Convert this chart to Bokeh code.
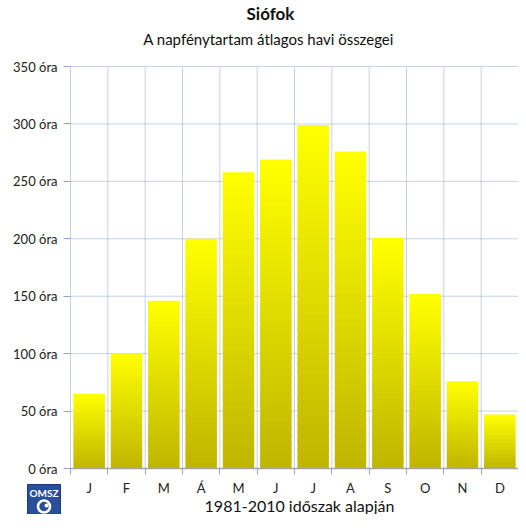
from bokeh.plotting import figure
from bokeh.models import Range1d, FixedTicker, Label, LinearAxis, ColumnDataSource
from bokeh.embed import file_html
from bokeh.resources import INLINE

months = ["J", "F", "M", "Á", "M", "J", "J", "A", "S", "O", "N", "D"]
sunshine = [65, 100, 146, 200, 258, 269, 299, 276, 201, 152, 76, 47]
y_ticks = [0, 50, 100, 150, 200, 250, 300, 350]
y_labels = [f"{t} óra" for t in y_ticks]

FONT = "Lato"
top_rgb = (255, 255, 0)
bot_rgb = (192, 182, 0)
grid_col = "#8FA5D2"
W, H = 518, 514
left_px, zero_px, top_px = 70, 468, 66
ppu_x = (W - left_px) / 12
ppu_y = (zero_px - top_px) / 350

p = figure(width=W, height=H, output_backend="svg", toolbar_location=None, title=None,
           x_axis_type=None, y_axis_type=None,
           x_range=Range1d(-left_px / ppu_x, 12),
           y_range=Range1d(-(H - zero_px) / ppu_y, 350 + top_px / ppu_y),
           min_border=0)
p.outline_line_color = None
p.background_fill_color = "white"
p.xgrid.visible = False
p.ygrid.visible = False


def px_x(px):
    return (px - left_px) / ppu_x


def px_y(py):
    return (zero_px - py) / ppu_y


# grid lines (from the tick lists)
n_cat = len(months)
hx0 = [0] * (len(y_ticks) - 1)
hx1 = [n_cat] * (len(y_ticks) - 1)
p.segment(x0=hx0, x1=hx1, y0=y_ticks[1:], y1=y_ticks[1:], line_color=grid_col,
          line_dash="1 1", line_width=1)
bounds = list(range(n_cat + 1))
p.segment(x0=bounds, x1=bounds, y0=[0] * len(bounds), y1=[y_ticks[-1]] * len(bounds),
          line_color=grid_col, line_dash="1 1", line_width=1)

# gradient bars made of thin slices
n = 40
xs, bots, tops, cols = [], [], [], []
for i, v in enumerate(sunshine):
    for k in range(n):
        f = k / (n - 1)
        r = round(bot_rgb[0] + (top_rgb[0] - bot_rgb[0]) * f)
        g = round(bot_rgb[1] + (top_rgb[1] - bot_rgb[1]) * f)
        b = round(bot_rgb[2] + (top_rgb[2] - bot_rgb[2]) * f)
        xs.append(i + 0.5)
        bots.append(v * k / n)
        tops.append(v * (k + 1) / n + (0 if k == n - 1 else v * 0.01))
        cols.append(f"#{r:02x}{g:02x}{b:02x}")
src = ColumnDataSource(dict(x=xs, bottom=bots, top=tops, color=cols))
p.vbar(x="x", bottom="bottom", top="top", width=0.84, fill_color="color", line_color=None, source=src)

# y axis, fixed at x = 0
yax = LinearAxis(fixed_location=0, bounds=(0, 350))
yax.ticker = FixedTicker(ticks=y_ticks)
yax.major_label_overrides = {t: l for t, l in zip(y_ticks, y_labels)}
yax.axis_line_color = None
yax.major_tick_out = 7
yax.major_tick_in = 0
yax.major_tick_line_color = grid_col
yax.minor_tick_line_color = None
yax.major_label_standoff = 6
yax.major_label_text_font = FONT
yax.major_label_text_font_size = "13px"
yax.major_label_text_color = "#222222"
p.add_layout(yax, "left")

# x axis, fixed at y = 0
centers = [i + 0.5 for i in range(n_cat)]
xax = LinearAxis(fixed_location=0, bounds=(0, n_cat))
xax.ticker = FixedTicker(ticks=centers, minor_ticks=bounds)
xax.major_label_overrides = {c: m for c, m in zip(centers, months)}
xax.axis_line_color = "#A6A6A6"
xax.axis_line_width = 1.5
xax.major_tick_line_color = None
xax.major_tick_out = 0
xax.major_tick_in = 0
xax.minor_tick_line_color = "#A6A6A6"
xax.minor_tick_out = 6
xax.minor_tick_in = 0
xax.major_label_standoff = 5
xax.major_label_text_font = FONT
xax.major_label_text_font_size = "13px"
xax.major_label_text_color = "#222222"
p.add_layout(xax, "below")

# titles and footer
p.add_layout(Label(x=px_x(270), y=px_y(13), text="Siófok", text_font=FONT,
                   text_font_style="bold", text_font_size="17px", text_align="center",
                   text_baseline="middle", text_color="#111111"))
p.add_layout(Label(x=px_x(270), y=px_y(38), text="A napfénytartam  átlagos havi összegei",
                   text_font=FONT, text_font_size="15px", text_align="center",
                   text_baseline="middle", text_color="#111111"))
p.add_layout(Label(x=px_x(299), y=px_y(505), text="1981-2010 időszak alapján",
                   text_font=FONT, text_font_size="16px", text_align="center",
                   text_baseline="middle", text_color="#111111"))

# logo (decoration): blue shield with lettering and a white swirl
p.quad(left=px_x(27), right=px_x(60), top=px_y(484), bottom=px_y(H + 4),
       fill_color="#2A4E9A", line_color="#1C3A7E", line_width=1)
p.add_layout(Label(x=px_x(43.5), y=px_y(492), text="OMSZ", text_font=FONT,
                   text_font_style="bold", text_font_size="10px", text_align="center",
                   text_baseline="middle", text_color="white"))
p.scatter(x=[px_x(43.5)], y=[px_y(506)], size=12, marker="circle", fill_color=None,
          line_color="white", line_width=2.5)
p.scatter(x=[px_x(46)], y=[px_y(505)], size=4, marker="circle", fill_color="white",
          line_color=None)

open("out.html", "w").write(file_html(p, INLINE))
